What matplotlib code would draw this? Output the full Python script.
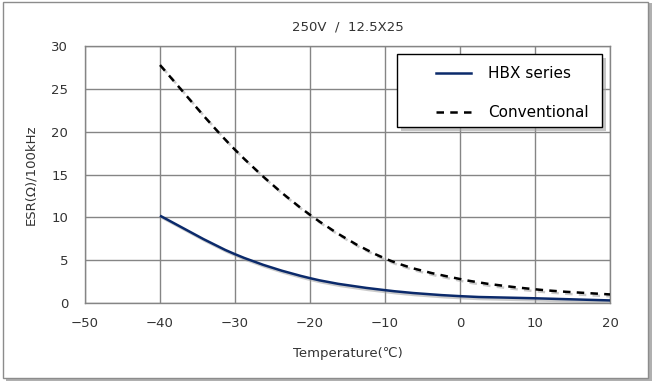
#! /usr/bin/env python3

"""ESR vs temperature, HBX series against conventional capacitor."""

import matplotlib
matplotlib.use('Agg')
import matplotlib.pyplot as plt
import matplotlib.patheffects as pe
from matplotlib.lines import Line2D
from matplotlib.patches import PathPatch, Rectangle
from matplotlib.path import Path

temperature = [-40, -30, -20, -10, 0, 10, 20]
esr_hbx = [10.2, 5.7, 2.9, 1.5, 0.8, 0.55, 0.3]
esr_conventional = [27.8, 17.9, 10.3, 5.2, 2.8, 1.6, 1.0]

x_ticks = [-50, -40, -30, -20, -10, 0, 10, 20]
y_ticks = [0, 5, 10, 15, 20, 25, 30]

TEXT = '#333333'
GRID = '#858585'


def smooth_path(xs, ys):
    """Bezier path through the points, like a spreadsheet 'smoothed line'."""
    pts = list(zip(xs, ys))
    n = len(pts)
    verts = [pts[0]]
    codes = [Path.MOVETO]
    for i in range(n - 1):
        p0 = pts[max(i - 1, 0)]
        p1 = pts[i]
        p2 = pts[i + 1]
        p3 = pts[min(i + 2, n - 1)]
        c1 = (p1[0] + (p2[0] - p0[0]) / 6, p1[1] + (p2[1] - p0[1]) / 6)
        c2 = (p2[0] - (p3[0] - p1[0]) / 6, p2[1] - (p3[1] - p1[1]) / 6)
        verts += [c1, c2, p2]
        codes += [Path.CURVE4] * 3
    return Path(verts, codes)


fig = plt.figure(figsize=(6.56, 3.85), dpi=100)

# Outer frame with a soft shadow
fig.patches.append(Rectangle((0.009, 0.010), 0.985, 0.982, transform=fig.transFigure,
                             facecolor='#b0b0b0', edgecolor='none', zorder=0))
fig.patches.append(Rectangle((0.004, 0.018), 0.984, 0.976, transform=fig.transFigure,
                             facecolor='white', edgecolor='#8c8c8c', lw=1, zorder=1))

ax = fig.add_axes([0.1296, 0.213, 0.8004, 0.667])
ax.set_zorder(2)
ax.set_facecolor('white')

shadow = [pe.SimpleLineShadow(offset=(1.5, -1.5), shadow_color='#999999', alpha=0.5),
          pe.Normal()]

ax.add_patch(PathPatch(smooth_path(temperature, esr_hbx), fill=False,
                       edgecolor='#0b2a6b', lw=1.8, zorder=4, path_effects=shadow))
ax.add_patch(PathPatch(smooth_path(temperature, esr_conventional), fill=False,
                       edgecolor='black', lw=1.8, ls=(0, (3, 2.5)), zorder=4,
                       path_effects=shadow))

ax.set_xlim(-50, 20)
ax.set_ylim(0, 30)
ax.set_xticks(x_ticks)
ax.set_yticks(y_ticks)
ax.set_xticklabels(['\u2212%d' % -t if t < 0 else str(t) for t in x_ticks])
ax.grid(True, color=GRID, lw=1)
ax.set_axisbelow(True)
for s in ax.spines.values():
    s.set_color(GRID)
    s.set_linewidth(1)
ax.tick_params(length=0, labelsize=9.5, colors=TEXT, pad=10)
ax.tick_params(axis='y', pad=12)

ax.set_title('250V  /  12.5X25', fontsize=9.5, color=TEXT, pad=11)
ax.set_xlabel('Temperature(\u2103)', fontsize=9.5, color=TEXT, labelpad=12)
ax.set_ylabel('ESR(\u03a9)/100kHz', fontsize=9.5, color=TEXT, labelpad=10)

# Legend box drawn by hand so it can be wider than its contents
ax.add_patch(Rectangle((0.594, 0.685), 0.391, 0.284, transform=ax.transAxes,
                       facecolor='white', edgecolor='black', lw=1, zorder=6,
                       path_effects=[pe.SimplePatchShadow(offset=(3, -3),
                                                          shadow_rgbFace='#a0a0a0',
                                                          alpha=0.6),
                                     pe.Normal()]))
handles = [Line2D([], [], color='#0b2a6b', lw=1.8),
           Line2D([], [], color='black', lw=1.8, ls=(0, (3, 2.5)))]
leg = ax.legend(handles, ['HBX series', 'Conventional'], loc='upper left',
                bbox_to_anchor=(0.66, 0.94), fontsize=11, frameon=False,
                labelspacing=1.55, handlelength=2.3, handletextpad=1.1,
                borderaxespad=0, borderpad=0.3)
leg.set_zorder(7)

fig.savefig('out.png', dpi=100)
